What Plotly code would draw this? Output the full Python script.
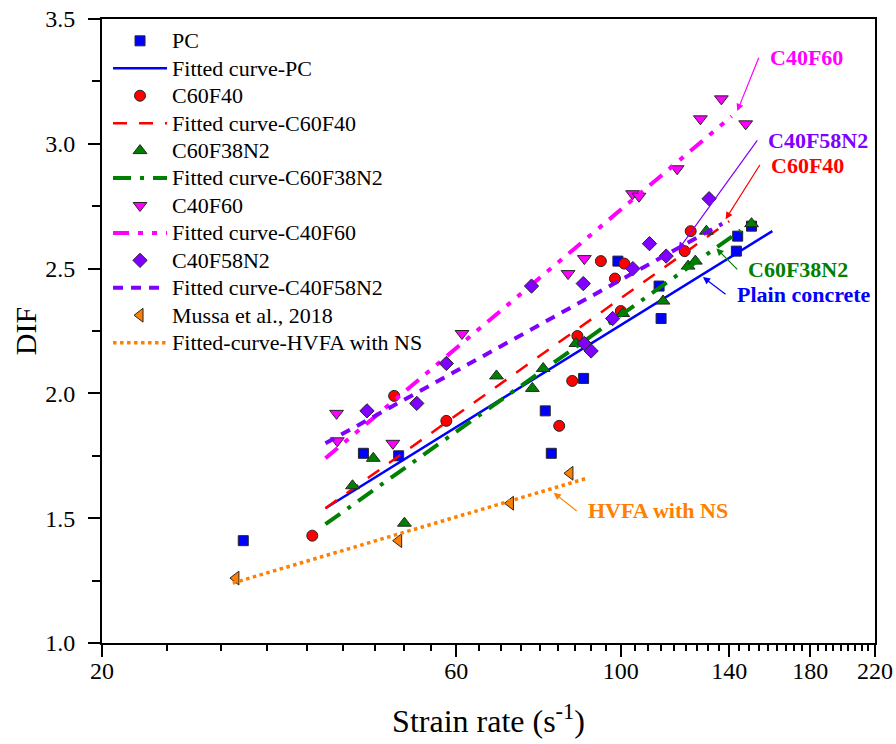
import numpy as np
import plotly.graph_objects as go

# ---- measured dynamic increase factors (strain rate in 1/s) ----
pc_rate = [31.0, 45.0, 50.2, 79.1, 80.6, 89.1, 99.1, 112.6, 113.3, 143.1, 143.7, 150.0]
pc_dif = [1.41, 1.76, 1.75, 1.93, 1.76, 2.06, 2.53, 2.43, 2.30, 2.57, 2.63, 2.67]

c60f40_rate = [38.4, 49.5, 58.2, 82.6, 86.0, 87.4, 94.0, 98.2, 100.0, 101.1, 121.9, 124.2]
c60f40_dif = [1.43, 1.99, 1.89, 1.87, 2.05, 2.23, 2.53, 2.46, 2.33, 2.52, 2.57, 2.65]

c60f38n2_rate = [43.5, 46.4, 51.1, 68.0, 76.0, 78.6, 87.0, 100.6, 114.0, 123.2, 126.0, 130.4, 150.0]
c60f38n2_dif = [1.63, 1.74, 1.48, 2.07, 2.02, 2.10, 2.20, 2.32, 2.37, 2.51, 2.53, 2.65, 2.68]

c40f60_rate = [41.4, 41.5, 49.3, 61.1, 84.9, 89.3, 103.7, 105.8, 119.1, 128.0, 136.6, 147.3]
c40f60_dif = [1.92, 1.81, 1.80, 2.24, 2.48, 2.54, 2.80, 2.79, 2.90, 3.10, 3.18, 3.08]

c40f58n2_rate = [45.5, 53.1, 58.2, 75.8, 89.0, 89.3, 91.2, 97.5, 103.8, 109.3, 115.1, 131.5]
c40f58n2_dif = [1.93, 1.96, 2.12, 2.43, 2.44, 2.20, 2.17, 2.30, 2.50, 2.60, 2.55, 2.78]

mussa_rate = [30.3, 50.2, 71.0, 85.4]
mussa_dif = [1.26, 1.41, 1.56, 1.68]

# ---- fitted curves (DIF linear in log strain rate): end points ----
fit_pc_rate, fit_pc_dif = [40, 160], [1.54, 2.65]
fit_c60f40_rate, fit_c60f40_dif = [40, 140], [1.54, 2.69]
fit_c60f38n2_rate, fit_c60f38n2_dif = [40, 145], [1.476, 2.653]
fit_c40f60_rate, fit_c40f60_dif = [40, 141], [1.74, 3.11]
fit_c40f58n2_rate, fit_c40f58n2_dif = [40, 137], [1.80, 2.68]
fit_hvfa_rate, fit_hvfa_dif = [30, 90], [1.24, 1.66]

# ---- axis ticks ----
x_major = [20, 60, 100, 140, 180, 220]
x_minor = [20 + 40 * k / 9 for k in range(46) if k % 9 != 0]
y_range = [1.0, 3.5]

FONT = "Liberation Serif, Times New Roman, serif"
BLUE, RED, GREEN = "#0000FF", "#FF0000", "#008000"
MAGENTA, PURPLE, ORANGE = "#FF00FF", "#8000FF", "#FF8000"

fig = go.Figure()


def legend_label(text):
    # legend rows are spaced by the legend font size; the label itself is larger
    return '<span style="font-size:22px">%s</span>' % text


def add_points(name, x, y, symbol, color, size):
    fig.add_trace(go.Scatter(
        x=x, y=y, mode="markers", name=legend_label(name),
        marker=dict(symbol=symbol, color=color, size=size,
                    line=dict(color="#262626", width=1)),
    ))


def add_fit(name, x, y, color, dash, width):
    fig.add_trace(go.Scatter(
        x=x, y=y, mode="lines", name=legend_label(name),
        line=dict(color=color, dash=dash, width=width),
    ))


add_points("PC", pc_rate, pc_dif, "square", BLUE, 10)
add_fit("Fitted curve-PC", fit_pc_rate, fit_pc_dif, BLUE, "solid", 2.5)
add_points("C60F40", c60f40_rate, c60f40_dif, "circle", RED, 11)
add_fit("Fitted curve-C60F40", fit_c60f40_rate, fit_c60f40_dif, RED, "14px,12px", 2.5)
add_points("C60F38N2", c60f38n2_rate, c60f38n2_dif, "triangle-up", GREEN, 12)
add_fit("Fitted curve-C60F38N2", fit_c60f38n2_rate, fit_c60f38n2_dif, GREEN,
        "18px,9px,4px,9px", 4)
add_points("C40F60", c40f60_rate, c40f60_dif, "triangle-down", MAGENTA, 12)
add_fit("Fitted curve-C40F60", fit_c40f60_rate, fit_c40f60_dif, MAGENTA,
        "16px,9px,5px,9px,5px,9px", 4)
add_points("C40F58N2", c40f58n2_rate, c40f58n2_dif, "diamond", PURPLE, 11)
add_fit("Fitted curve-C40F58N2", fit_c40f58n2_rate, fit_c40f58n2_dif, PURPLE,
        "10px,8px", 4)
add_points("Mussa et al., 2018", mussa_rate, mussa_dif, "triangle-left", ORANGE, 12)
add_fit("Fitted-curve-HVFA with NS", fit_hvfa_rate, fit_hvfa_dif, ORANGE, "dot", 3.5)

# ---- callout labels: (text, colour, arrow tail at left of label, arrow head) ----
callouts = [
    ("C40F60", MAGENTA, (153.4, 3.345), (143.5, 3.131)),
    ("C40F58N2", PURPLE, (152.7, 3.014), (119.6, 2.577)),
    ("C60F40", RED, (153.9, 2.915), (138.4, 2.698)),
    ("C60F38N2", GREEN, (143.5, 2.497), (134.5, 2.581)),
    ("Plain concrete", BLUE, (138.4, 2.397), (129.0, 2.466)),
    ("HVFA with NS", ORANGE, (87.2, 1.529), (81.2, 1.602)),
]
annotations = []
for text, color, (tx, ty), (hx, hy) in callouts:
    annotations.append(dict(
        x=np.log10(hx), y=hy, ax=np.log10(tx), ay=ty,
        xref="x", yref="y", axref="x", ayref="y",
        text=text, xanchor="left", yanchor="middle", borderpad=10,
        font=dict(family=FONT, size=22, color=color, weight="bold"),
        showarrow=True, arrowhead=2, arrowsize=1.2, arrowwidth=1.2,
        arrowcolor=color,
    ))

axis_common = dict(
    showline=True, linewidth=2, linecolor="black", mirror=True,
    showgrid=False, zeroline=False, automargin=False,
    ticks="outside", ticklen=12, tickwidth=2, tickcolor="black",
    tickfont=dict(family=FONT, size=24, color="black"),
)

fig.update_layout(
    width=896, height=744,
    margin=dict(l=102, r=21, t=19, b=101),
    paper_bgcolor="white", plot_bgcolor="white",
    font=dict(family=FONT, color="black"),
    showlegend=True,
    legend=dict(
        x=0.0078, y=0.995, xanchor="left", yanchor="top",
        bgcolor="rgba(0,0,0,0)", borderwidth=0,
        font=dict(family=FONT, size=18.8, color="black"),
        itemwidth=54, tracegroupgap=0,
    ),
    annotations=annotations,
    xaxis=dict(
        type="log", range=[np.log10(20), np.log10(220)],
        tickmode="array", tickvals=x_major, ticktext=[str(v) for v in x_major],
        ticklabelstandoff=-7,
        minor=dict(tickmode="array", tickvals=x_minor, ticks="outside",
                   ticklen=6, tickwidth=1.5, tickcolor="black", showgrid=False),
        title=dict(text="Strain rate (s<sup>-1</sup>)",
                   font=dict(family=FONT, size=32), standoff=27),
        **axis_common,
    ),
    yaxis=dict(
        range=y_range, tickmode="linear", tick0=1.0, dtick=0.5, tickformat=".1f",
        ticklabelstandoff=8,
        minor=dict(dtick=0.25, ticks="outside", ticklen=8, tickwidth=1.5,
                   tickcolor="black", showgrid=False),
        title=dict(text="DIF", font=dict(family=FONT, size=30), standoff=0),
        **axis_common,
    ),
)

fig.write_html("out.html")
